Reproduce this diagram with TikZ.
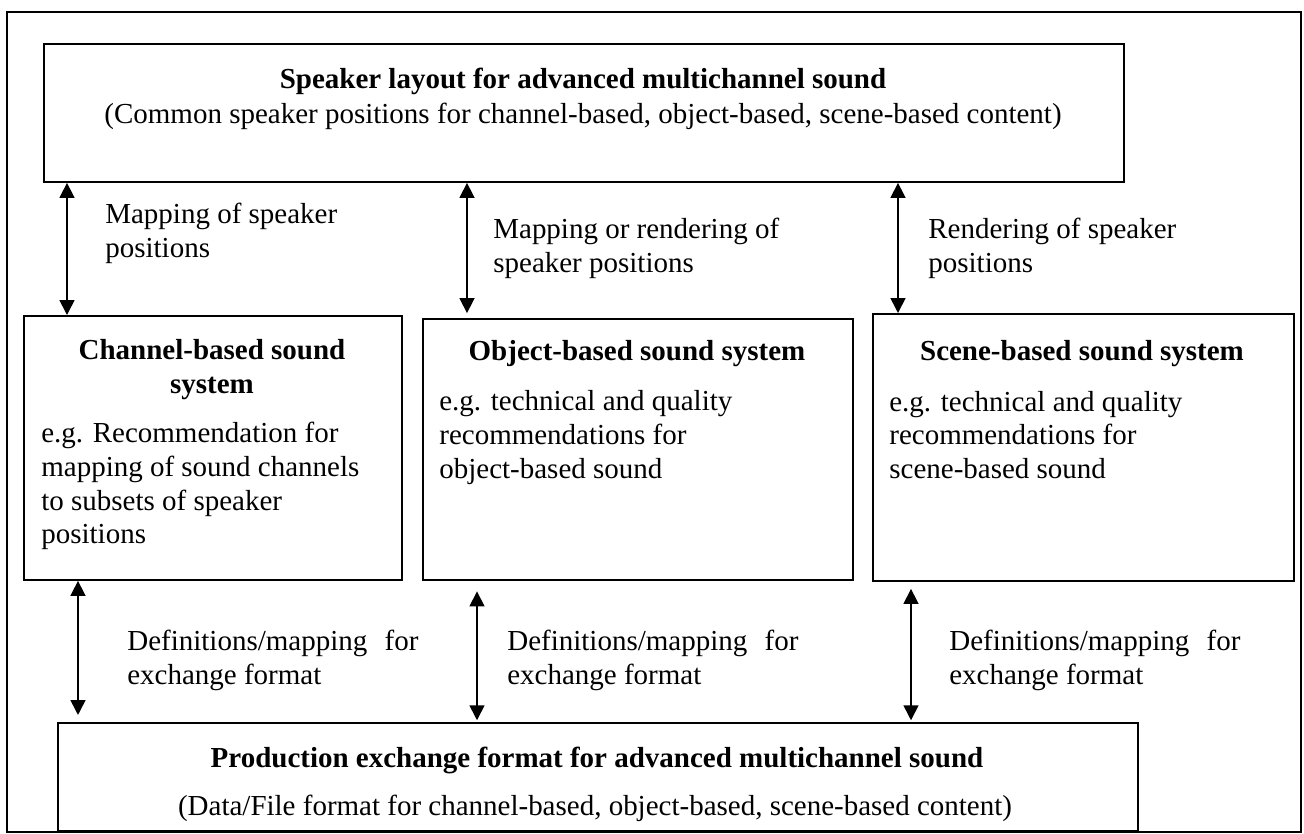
\documentclass[tikz,border=0pt]{standalone}
\usepackage{fontspec}
\setmainfont{Liberation Serif}
\usetikzlibrary{arrows.meta, positioning}

\begin{document}
\begin{tikzpicture}[
    x=0.02cm, y=-0.02cm,
    font=\fontsize{16.5}{19.3}\selectfont,
    box/.style={draw, line width=1.1pt, anchor=north west, inner sep=0pt},
    title/.style={font=\fontsize{16.5}{19.8}\selectfont\bfseries, align=center, inner sep=0pt},
    body/.style={align=left, anchor=west, inner sep=0pt},
    note/.style={align=left, anchor=west, inner sep=0pt},
    dblarrow/.style={{Triangle[width=8.5pt, length=8.5pt]}-{Triangle[width=8.5pt, length=8.5pt]}, line width=0.9pt}
]
    \useasboundingbox (0,0) rectangle (1304,833);
    \draw[line width=1pt] (7,12) rectangle (1301,832);

    % boxes
    \node (layout) [box, minimum width=21.6cm, minimum height=2.76cm] at (43,43) {};
    \node (chan) [box, minimum width=7.56cm, minimum height=5.28cm] at (23,315) {};
    \node (obj) [box, minimum width=8.6cm, minimum height=5.22cm] at (422,318) {};
    \node (scene) [box, minimum width=8.42cm, minimum height=5.34cm] at (872,313) {};
    \node (prod) [box, minimum width=21.6cm, minimum height=2.16cm] at (57,722) {};

    % box texts
    \node (layouttext) [title] at (583,98.5) {Speaker layout for advanced multichannel sound\\
        \mdseries(Common speaker positions for channel-based, object-based, scene-based content)};
    \node (chantitle) [title] at (212,369.5) {Channel-based sound\\system};
    \node (chanbody) [body] at (41,486) {e.g. Recommendation for\\mapping of sound channels\\to subsets of speaker\\positions};
    \node (objtitle) [title] at (637,354) {Object-based sound system};
    \node (objbody) [body] at (439,437.5) {e.g. technical and quality\\recommendations for\\object-based sound};
    \node (scenetitle) [title] at (1082,354) {Scene-based sound system};
    \node (scenebody) [body] at (889,435) {e.g. technical and quality\\recommendations for\\scene-based sound};
    \node (prodtitle) [title] at (597,760) {Production exchange format for advanced multichannel sound};
    \node (prodsub) [inner sep=0pt] at (595,808) {(Data/File format for channel-based, object-based, scene-based content)};

    % arrow labels
    \node (mapl) [note] at (105,233.5) {Mapping of speaker\\positions};
    \node (mapm) [note] at (493,248.5) {Mapping or rendering of\\speaker positions};
    \node (mapr) [note] at (928,248.5) {Rendering of speaker\\positions};
    \node (defl) [note] at (127,660) {Definitions/mapping\hspace{0.6em}for\\exchange format};
    \node (defm) [note] at (507,660) {Definitions/mapping\hspace{0.6em}for\\exchange format};
    \node (defr) [note] at (949,660) {Definitions/mapping\hspace{0.6em}for\\exchange format};

    % arrows
    \draw[dblarrow] (layout.south -| 67,0) -- (chan.north -| 67,0);
    \draw[dblarrow, shorten >=2.8pt] (layout.south -| 467,0) -- (obj.north -| 467,0);
    \draw[dblarrow] (layout.south -| 898,0) -- (scene.north -| 898,0);
    \draw[dblarrow, shorten >=4pt] (chan.south -| 78,0) -- (prod.north -| 78,0);
    \draw[dblarrow, shorten <=6pt, shorten >=1pt] (obj.south -| 477,0) -- (prod.north -| 477,0);
    \draw[dblarrow, shorten <=4pt, shorten >=1pt] (scene.south -| 911,0) -- (prod.north -| 911,0);
\end{tikzpicture}
\end{document}
